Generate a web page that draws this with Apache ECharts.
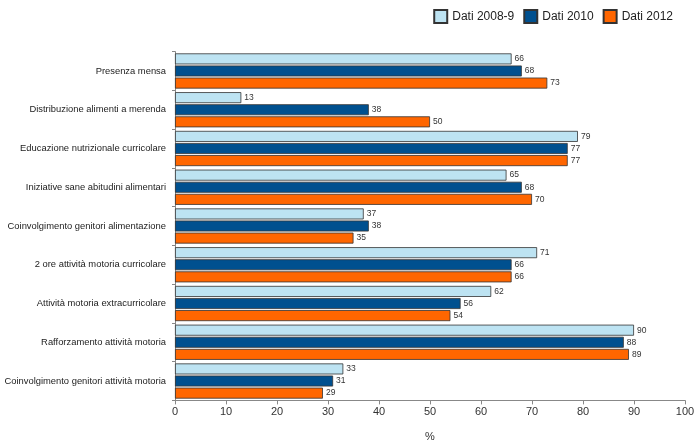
<!DOCTYPE html>
<html>
<head>
<meta charset="utf-8">
<script src="https://cdn.jsdelivr.net/npm/echarts@6/dist/echarts.min.js"></script>
<style>html,body{margin:0;padding:0;background:#fff}#c{width:700px;height:442px}</style>
</head>
<body>
<div id="c"></div>
<script>
const categories = [
  "Presenza mensa",
  "Distribuzione alimenti a merenda",
  "Educazione nutrizionale curricolare",
  "Iniziative sane abitudini alimentari",
  "Coinvolgimento genitori alimentazione",
  "2 ore attività motoria curricolare",
  "Attività motoria extracurricolare",
  "Rafforzamento attività motoria",
  "Coinvolgimento genitori attività motoria"
];
const seriesNames = ["Dati 2008-9", "Dati 2010", "Dati 2012"];
const dati2008 = [66, 13, 79, 65, 37, 71, 62, 90, 33];
const dati2010 = [68, 38, 77, 68, 38, 66, 56, 88, 31];
const dati2012 = [73, 50, 77, 70, 35, 66, 54, 89, 29];
const xTicks = [0, 10, 20, 30, 40, 50, 60, 70, 80, 90, 100];

const colors = ["#BDE3F2", "#00508F", "#FF6600"];
const font = "Liberation Sans, Arial, sans-serif";

function mk(name, data, color) {
  return {
    name: name,
    type: "bar",
    data: data,
    barWidth: 11,
    barGap: "10%",
    itemStyle: { color: color, borderColor: "#333", borderWidth: 0.8 },
    label: {
      show: true, position: "right", distance: 3,
      fontSize: 8.5, color: "#333", fontFamily: font
    }
  };
}

const chart = echarts.init(document.getElementById("c"));
chart.setOption({
  animation: false,
  textStyle: { fontFamily: font },
  legend: {
    data: seriesNames,
    right: 22, top: 4,
    icon: "rect",
    itemWidth: 13, itemHeight: 13, itemGap: 9,
    textStyle: { fontSize: 12, color: "#222", fontFamily: font }
  },
  grid: { left: 175, right: 15, top: 51.6, bottom: 41.6, containLabel: false, outerBoundsMode: "none" },
  xAxis: {
    type: "value",
    min: 0, max: 100, interval: 10,
    name: "%", nameLocation: "middle", nameGap: 31,
    nameTextStyle: { fontSize: 11, color: "#333", fontFamily: font },
    axisLine: { show: true, lineStyle: { color: "#888" } },
    axisTick: { show: true, length: 4, lineStyle: { color: "#888" } },
    axisLabel: {
      fontSize: 11, color: "#333", margin: 6, fontFamily: font,
      formatter: function (v) { return xTicks.indexOf(v) >= 0 ? String(v) : ""; }
    },
    splitLine: { show: false }
  },
  yAxis: {
    type: "category",
    data: categories,
    inverse: true,
    offset: 3,
    axisLine: { show: true, lineStyle: { color: "#888" } },
    axisTick: { show: true, length: 3, lineStyle: { color: "#888" } },
    axisLabel: { fontSize: 9.4, color: "#222", margin: 6, fontFamily: font }
  },
  series: [
    mk(seriesNames[0], dati2008, colors[0]),
    mk(seriesNames[1], dati2010, colors[1]),
    mk(seriesNames[2], dati2012, colors[2])
  ]
});
</script>
</body>
</html>
